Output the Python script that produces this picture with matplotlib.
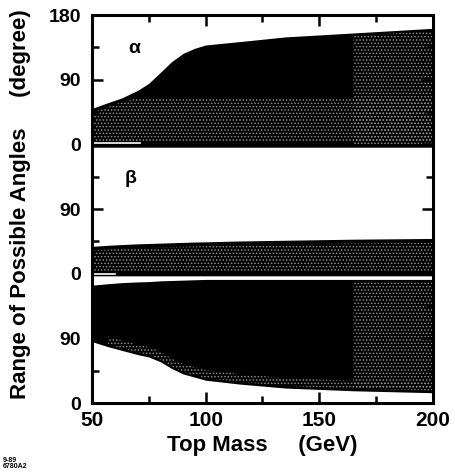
import numpy as np
import matplotlib.pyplot as plt
from matplotlib.ticker import MultipleLocator, FixedLocator

plt.rcParams['font.family'] = ['Liberation Sans', 'DejaVu Sans']
plt.rcParams['font.weight'] = 'bold'
plt.rcParams['hatch.linewidth'] = 0.7

# top mass (GeV)
mass = [50, 57, 63, 70, 75, 80, 85, 90, 95, 100, 115, 135, 165, 200]

# alpha allowed band (deg)
alpha_hi = [50, 58, 64.5, 75, 85, 100, 115, 126.5, 133.5, 138.3, 143, 149.5, 155, 161.5]
alpha_lo = [-4] * len(mass)

# beta allowed bands (deg), positive and negative branch
beta_up_hi = [38, 39.5, 40.5, 41.5, 42, 42.5, 43, 43.5, 44, 44.3, 45.5, 46.5, 48, 49]
beta_up_lo = [-3] * len(mass)
beta_lo_hi = [-16, -14, -12.5, -11.5, -11, -10, -9.5, -9, -8.5, -8, -8, -8, -8, -8]
beta_lo_lo = [-94.6, -101.6, -106.7, -112.6, -116, -122.5, -131.9, -139.5, -143.9,
              -148.3, -153.7, -159.2, -163, -165.7]

ytick_pos = [0, 90, 180, 270, 360, 450, 540]
ytick_lab = ['0', '90', '0', '90', '0', '90', '180']
xtick_pos = [50, 100, 150, 200]

# the two panels are stacked on one axis: alpha above 360, beta around 180
A_OFF = 360
B_OFF = 180

m = np.array(mass)
a_hi = np.array(alpha_hi) + A_OFF
a_lo = np.array(alpha_lo) + A_OFF
bu_hi = np.array(beta_up_hi) + B_OFF
bu_lo = np.array(beta_up_lo) + B_OFF
bl_hi = np.array(beta_lo_hi) + B_OFF
bl_lo = np.array(beta_lo_lo) + B_OFF

fig = plt.figure(figsize=(4.56, 4.72), dpi=100)
ax = fig.add_axes([92/456, 1 - 403/472, 341/456, 388/472])

for lo, hi in [(a_lo, a_hi), (bu_lo, bu_hi), (bl_lo, bl_hi)]:
    ax.fill_between(m, lo, hi, color='black', linewidth=0)

# halftone-like stipple inside the bands
stip = dict(facecolor='none', edgecolor='#8c8c8c', hatch='.....', linewidth=0)
ax.fill_between(m, a_lo + 8, np.minimum(a_hi - 6, A_OFF + 65), **stip)
ax.fill_between(m, bu_lo + 7, bu_hi - 6, **stip)
right = m >= 165
ax.fill_between(m, np.where(right, a_lo + 4, np.nan), np.where(right, a_hi - 4, np.nan), **stip)
ax.fill_between(m, np.where(right, bl_lo + 4, np.nan), np.where(right, bl_hi - 4, np.nan), **stip)
low = m >= 57
ax.fill_between(m, np.where(low, bl_lo + 3, np.nan), np.where(low, bl_lo + 14, np.nan), **stip)

# short white zero lines at the left edge
ax.plot([50, 71], [A_OFF + 2.5, A_OFF + 2.5], color='white', lw=1.2)
ax.plot([50, 60], [B_OFF, B_OFF], color='white', lw=1.2)

ax.text(68.8, A_OFF + 134, 'α', fontsize=14, ha='center', va='center')
ax.text(67, B_OFF + 133, 'β', fontsize=14, ha='center', va='center')

ax.set_xlim(50, 200)
ax.set_ylim(0, 540)
ax.xaxis.set_major_locator(FixedLocator(xtick_pos))
ax.xaxis.set_minor_locator(MultipleLocator(25))
ax.set_yticks(ytick_pos)
ax.set_yticklabels(ytick_lab)
ax.yaxis.set_minor_locator(MultipleLocator(45))
ax.tick_params(which='both', direction='in', top=True, right=True, width=1.8)
ax.tick_params(which='major', length=8)
ax.tick_params(which='minor', length=5)
ax.tick_params(axis='y', labelsize=14, pad=8)
ax.tick_params(axis='x', labelsize=15, pad=6)
for s in ax.spines.values():
    s.set_linewidth(2.2)

fig.text(262/456, 1 - 446/472, 'Top Mass     (GeV)', fontsize=16, ha='center', va='center')
fig.text(21/456, 1 - 204/472, 'Range of Possible Angles     (degree)', fontsize=16,
         rotation=90, ha='center', va='center')
fig.text(3/456, 2/472, '9-89\n6780A2', fontsize=5, ha='left', va='bottom', linespacing=0.9)

fig.savefig('out.png', dpi=100)
